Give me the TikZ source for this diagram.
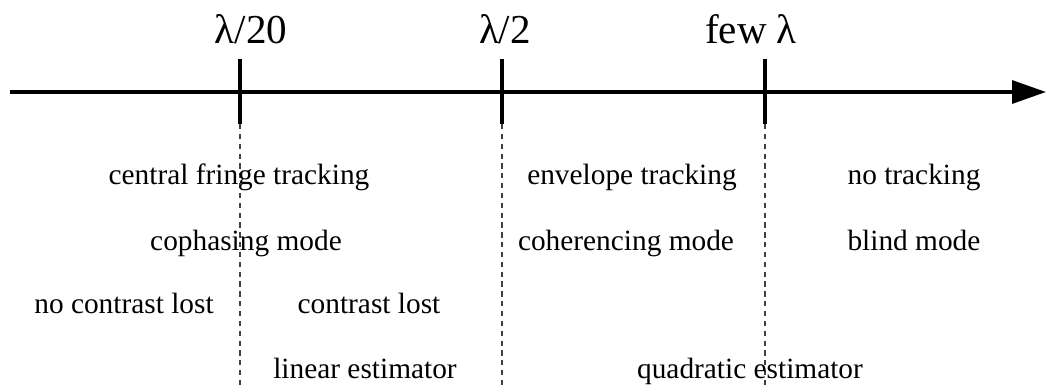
\documentclass[tikz,border=0pt]{standalone}
\usepackage{fontspec}
\setmainfont{Liberation Serif}
\usetikzlibrary{arrows.meta}

\begin{document}
\begin{tikzpicture}[x=0.1mm,y=-0.1mm,
    lbl/.style={anchor=base,inner sep=0pt,font=\fontsize{11.7}{14}\selectfont},
    txt/.style={anchor=base,inner sep=0pt,font=\fontsize{8.35}{10}\selectfont},
    sep/.style={dash pattern=on 1.5pt off 1.3pt,line width=0.3pt,darkgray}]
      \useasboundingbox (0,0) rectangle (1046,386) ;
      \coordinate (A0) at (10,92) ;
      \coordinate (A1) at (1046,92) ;
      \draw[line width=0.9pt,-{Triangle[length=3.4mm,width=2.3mm]}] (A0)--(A1) ;
      \foreach \x/\n in {240/1,502/2,765/3} {
        \coordinate (t\n a) at (\x,59) ;
        \coordinate (t\n b) at (\x,124) ;
        \coordinate (t\n c) at (\x,386) ;
        \draw[line width=0.9pt] (t\n a)--(t\n b) ;
        \draw[sep] (t\n b)--(t\n c) ;
      }
      \node[lbl] (L1) at (251,43) {λ/20} ;
      \node[lbl] (L2) at (505,43) {λ/2} ;
      \node[lbl] (L3) at (751,43) {few λ} ;
      \node[txt] (M1) at (239,184) {central fringe tracking} ;
      \node[txt] (M2) at (632,184) {envelope tracking} ;
      \node[txt] (M3) at (914,184) {no tracking} ;
      \node[txt] (C1) at (246,250) {cophasing mode} ;
      \node[txt] (C2) at (626,250) {coherencing mode} ;
      \node[txt] (C3) at (914,250) {blind mode} ;
      \node[txt] (K1) at (124,313) {no contrast lost} ;
      \node[txt] (K2) at (369,313) {contrast lost} ;
      \node[txt] (E1) at (365,378) {linear estimator} ;
      \node[txt] (E2) at (750,378) {quadratic estimator} ;
    \end{tikzpicture}
\end{document}
